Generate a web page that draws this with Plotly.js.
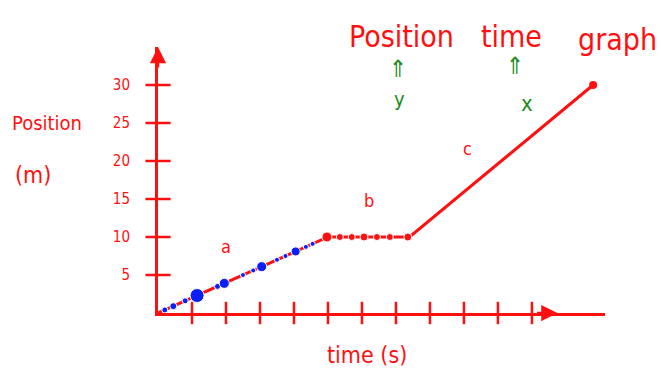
<!DOCTYPE html>
<html>
<head>
<meta charset="utf-8">
<script src="https://cdn.plot.ly/plotly-3.0.1.min.js"></script>
<style>
  html, body { margin: 0; padding: 0; background: #ffffff; }
  #chart { width: 661px; height: 374px; }
</style>
</head>
<body>
<div id="chart"></div>
<script>
// Position (m) against time (s): three segments a, b, c
const segTime = [0, 5, 7.4, 12.8];
const segPos  = [0, 10, 10, 30];

// hand-plotted readings along segment a
const aTime = [0.2, 0.45, 0.8, 1.15, 1.75, 1.95, 2.5, 2.8, 3.05, 3.5, 3.75, 4.05, 4.35, 4.55];
const aPos  = [0.4, 0.9, 1.6, 2.3, 3.5, 3.9, 5.0, 5.6, 6.1, 7.0, 7.5, 8.1, 8.7, 9.1];

// readings along segment b
const bTime = [4.97, 5.35, 5.7, 6.06, 6.44, 6.82, 7.35];
const bPos  = [10, 10, 10, 10, 10, 10, 10];

// final reading at the end of segment c
const cTime = [12.8];
const cPos  = [30];

// axis ticks
const xTicks = [1, 2, 3, 4, 5, 6, 7, 8, 9, 10, 11];
const yTicks = [5, 10, 15, 20, 25, 30];
const yTickText = ['5', '10', '15', '20', '25', '30'];

const RED = '#ff1010';
const BLUE = '#0a1ef5';
const GREEN = '#1d8a1d';
const HAND = 'DejaVu Sans Condensed, DejaVu Sans, sans-serif';

const traces = [
  {
    x: segTime, y: segPos, mode: 'lines', type: 'scatter',
    line: { color: RED, width: 3 }, hoverinfo: 'skip', cliponaxis: false
  },
  {
    x: aTime, y: aPos, mode: 'markers', type: 'scatter',
    marker: { color: BLUE, opacity: 1, size: [6, 7, 6, 14, 6, 10, 5, 5, 10, 5, 5, 9, 5, 5] },
    hoverinfo: 'skip'
  },
  {
    x: bTime, y: bPos, mode: 'markers', type: 'scatter',
    marker: { color: RED, opacity: 1, size: [10, 7, 7, 8, 7, 7, 8] },
    hoverinfo: 'skip'
  },
  {
    x: cTime, y: cPos, mode: 'markers', type: 'scatter',
    marker: { color: RED, size: 8 }, hoverinfo: 'skip', cliponaxis: false
  },
  // tick marks crossing the time axis
  {
    x: xTicks, y: xTicks.map(() => 0), mode: 'markers', type: 'scatter',
    marker: { symbol: 'line-ns', size: 16, line: { color: RED, width: 2.5 } },
    hoverinfo: 'skip', cliponaxis: false
  },
  // tick marks crossing the position axis
  {
    x: yTicks.map(() => 0), y: yTicks, mode: 'markers', type: 'scatter',
    marker: { symbol: 'line-ew', size: 18, line: { color: RED, width: 2.5 } },
    hoverinfo: 'skip', cliponaxis: false
  }
];

// paper coordinates from pixel positions in the 661x374 frame
const M = { l: 158, r: 56, t: 47, b: 61 };
const W = 661 - M.l - M.r, H = 374 - M.t - M.b;
const px = (x) => (x - M.l) / W;
const py = (y) => (374 - M.b - y) / H;

const textAnn = (text, x, y, size, color) => ({
  text, x: px(x), y: py(y), xref: 'paper', yref: 'paper', showarrow: false,
  xanchor: 'center', yanchor: 'middle',
  font: { family: HAND, size, color }
});

const annotations = [
  textAnn('Position', 401, 36, 30, RED),
  textAnn('time', 511, 36, 30, RED),
  textAnn('graph', 617, 40, 30, RED),
  textAnn('⇑', 398, 69, 24, GREEN),
  textAnn('y', 399, 99, 20, GREEN),
  textAnn('⇑', 515, 66, 24, GREEN),
  textAnn('x', 527, 103, 22, GREEN),
  textAnn('Position', 47, 123, 20, RED),
  textAnn('(m)', 33, 175, 23, RED),
  textAnn('time (s)', 367, 355, 23, RED),
  { text: 'a', x: 2.0, y: 8.8, showarrow: false, font: { family: HAND, size: 18, color: RED } },
  { text: 'b', x: 6.2, y: 14.8, showarrow: false, font: { family: HAND, size: 18, color: RED } },
  { text: 'c', x: 9.1, y: 21.6, showarrow: false, font: { family: HAND, size: 18, color: RED } },
  // arrowheads on both axes
  { x: 0, y: 35, ax: 0, ay: 22, xref: 'x', yref: 'y', text: '', showarrow: true,
    arrowhead: 2, arrowsize: 1.3, arrowwidth: 2.5, arrowcolor: RED },
  { x: 11.75, y: 0, ax: -22, ay: 0, xref: 'x', yref: 'y', text: '', showarrow: true,
    arrowhead: 2, arrowsize: 1.3, arrowwidth: 2.5, arrowcolor: RED }
];

const layout = {
  width: 661, height: 374,
  margin: M,
  paper_bgcolor: '#ffffff', plot_bgcolor: '#ffffff',
  showlegend: false,
  xaxis: {
    range: [0, 13.15], showgrid: false, zeroline: false,
    showline: true, linecolor: RED, linewidth: 3,
    tickvals: xTicks, showticklabels: false, ticks: ''
  },
  yaxis: {
    range: [0, 35], showgrid: false, zeroline: false,
    showline: true, linecolor: RED, linewidth: 3,
    tickvals: yTicks, ticktext: yTickText, ticks: '',
    ticklabelstandoff: 22,
    tickfont: { family: HAND, size: 15, color: RED }
  },
  annotations
};

Plotly.newPlot('chart', traces, layout, { staticPlot: true, displayModeBar: false });
</script>
</body>
</html>
